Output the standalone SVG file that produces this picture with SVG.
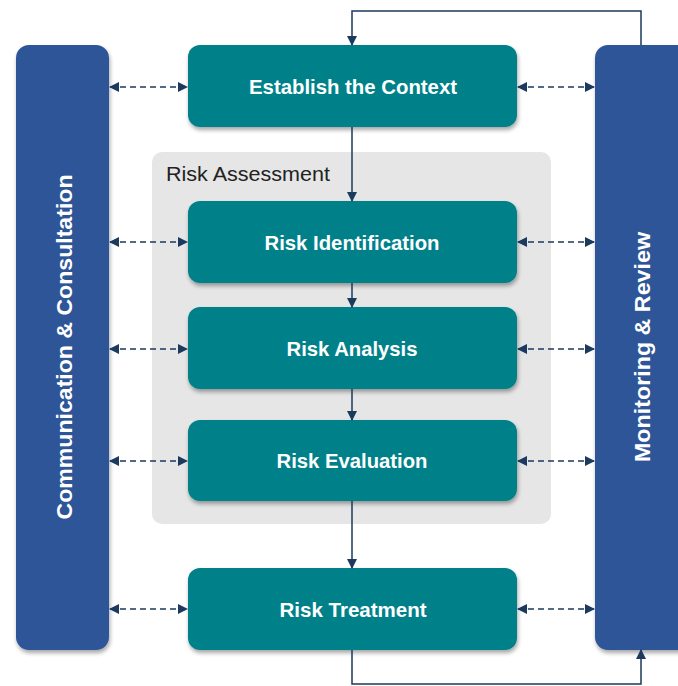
<svg xmlns="http://www.w3.org/2000/svg" width="678" height="686" viewBox="0 0 678 686">
<style>
.teal{fill:#00818A}
.blue{fill:#2E5597}
.lbl{font-family:"Liberation Sans",Arial,sans-serif;font-weight:bold;font-size:21px;fill:#ffffff;text-anchor:middle}
.vlbl{font-family:"Liberation Sans",Arial,sans-serif;font-weight:bold;font-size:22px;fill:#ffffff;text-anchor:middle}
.dash{stroke:#1B3A5E;stroke-width:1.6;stroke-dasharray:6,4;fill:none;marker-start:url(#ah);marker-end:url(#ah)}
.fb{stroke:#1B3A5E;stroke-width:1.5;fill:none;marker-end:url(#ah)}
</style>
<defs>
<marker id="ah" viewBox="0 0 10 10" refX="9" refY="5" markerWidth="10" markerHeight="10" markerUnits="userSpaceOnUse" orient="auto-start-reverse">
<path d="M0,0 L10,5 L0,10 z" fill="#1B3A5E"/>
</marker>
<filter id="sh" x="-10%" y="-10%" width="120%" height="130%">
<feGaussianBlur in="SourceAlpha" stdDeviation="2"/>
<feOffset dx="1" dy="3" result="b"/>
<feComponentTransfer><feFuncA type="linear" slope="0.35"/></feComponentTransfer>
<feMerge><feMergeNode/><feMergeNode in="SourceGraphic"/></feMerge>
</filter>
</defs>
<rect width="678" height="686" fill="#ffffff"/>
<g id="risk-assessment">
<rect x="152" y="152" width="399" height="372" rx="10" fill="#E6E6E6"/>
<text x="166" y="181" font-family="Liberation Sans,Arial,sans-serif" font-size="20" fill="#222222" textLength="164" lengthAdjust="spacingAndGlyphs">Risk Assessment</text>
</g>
<g id="communication">
<rect class="blue" x="16" y="45" width="93" height="605" rx="13" filter="url(#sh)"/>
<text class="vlbl" transform="translate(72,347) rotate(-90)" textLength="345" lengthAdjust="spacingAndGlyphs">Communication &amp; Consultation</text>
</g>
<g id="monitoring">
<rect class="blue" x="595" y="45" width="100" height="605" rx="13" filter="url(#sh)"/>
<text class="vlbl" transform="translate(650,347) rotate(-90)" textLength="230" lengthAdjust="spacingAndGlyphs">Monitoring &amp; Review</text>
</g>
<g id="establish">
<rect class="teal" x="188" y="45" width="329" height="82" rx="12" filter="url(#sh)"/>
<text class="lbl" x="353" y="94" textLength="208" lengthAdjust="spacingAndGlyphs">Establish the Context</text>
</g>
<g id="identification">
<rect class="teal" x="188" y="201" width="329" height="82" rx="12" filter="url(#sh)"/>
<text class="lbl" x="352" y="250" textLength="175" lengthAdjust="spacingAndGlyphs">Risk Identification</text>
</g>
<g id="analysis">
<rect class="teal" x="188" y="307" width="329" height="82" rx="12" filter="url(#sh)"/>
<text class="lbl" x="352" y="356" textLength="131" lengthAdjust="spacingAndGlyphs">Risk Analysis</text>
</g>
<g id="evaluation">
<rect class="teal" x="188" y="420" width="329" height="81" rx="12" filter="url(#sh)"/>
<text class="lbl" x="352" y="468" textLength="151" lengthAdjust="spacingAndGlyphs">Risk Evaluation</text>
</g>
<g id="treatment">
<rect class="teal" x="188" y="568" width="329" height="82" rx="12" filter="url(#sh)"/>
<text class="lbl" x="353" y="617" textLength="147" lengthAdjust="spacingAndGlyphs">Risk Treatment</text>
</g>
<g id="connectors">
<path class="fb" d="M352,127 V201"/>
<path class="fb" d="M352,283 V307"/>
<path class="fb" d="M352,389 V420"/>
<path class="fb" d="M352,501 V568"/>
<path class="fb" d="M641,45 V11 H352 V45"/>
<path class="fb" d="M352,650 V684 H641 V650"/>
<path class="dash" d="M110,87 H187"/>
<path class="dash" d="M518,87 H594"/>
<path class="dash" d="M110,242 H187"/>
<path class="dash" d="M518,242 H594"/>
<path class="dash" d="M110,349 H187"/>
<path class="dash" d="M518,349 H594"/>
<path class="dash" d="M110,461 H187"/>
<path class="dash" d="M518,461 H594"/>
<path class="dash" d="M110,609 H187"/>
<path class="dash" d="M518,609 H594"/>
</g>
</svg>
